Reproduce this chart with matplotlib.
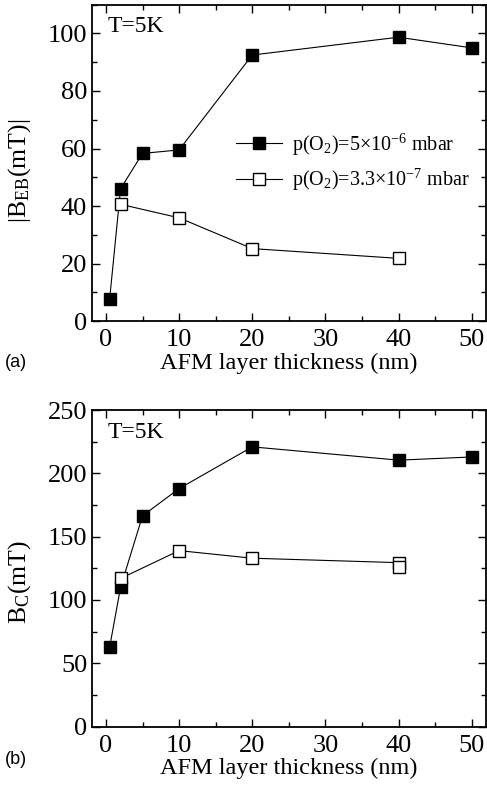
import numpy as np
import matplotlib
matplotlib.use("Agg")
import matplotlib.pyplot as plt
from matplotlib.ticker import MultipleLocator

plt.rcParams['font.family'] = ['Liberation Serif', 'DejaVu Serif']
plt.rcParams['mathtext.fontset'] = 'custom'
plt.rcParams['mathtext.rm'] = 'Liberation Serif'
plt.rcParams['mathtext.it'] = 'Liberation Serif:italic'

# thickness of the AFM layer (nm)
x_high = [0.5, 2, 5, 10, 20, 40, 50]
x_low = [2, 10, 20, 40]
x_low_bc = [2, 10, 20, 40, 40]

# panel (a): exchange bias |B_EB| (mT)
beb_high = [7.5, 46, 58.3, 59.5, 92.5, 98.7, 95]
beb_low = [40.6, 35.9, 25.2, 21.8]

# panel (b): coercive field B_C (mT)
bc_high = [62.5, 110, 166.5, 188, 221, 210.5, 213]
bc_low = [117, 139, 133, 129.5, 126.2]

label_high = r'p(O$_2$)=5$\times$10$^{-6}$ mbar'
label_low = r'p(O$_2$)=3.3$\times$10$^{-7}$ mbar'

fig = plt.figure(figsize=(4.87, 7.85), dpi=100)
ax1 = fig.add_axes([0.189, 0.591, 0.808, 0.403])
ax2 = fig.add_axes([0.189, 0.0745, 0.808, 0.403])


def style(ax, ymaj, ymin):
    ax.set_xlim(-1.9, 51.9)
    ax.xaxis.set_major_locator(MultipleLocator(10))
    ax.xaxis.set_minor_locator(MultipleLocator(5))
    ax.yaxis.set_major_locator(MultipleLocator(ymaj))
    ax.yaxis.set_minor_locator(MultipleLocator(ymin))
    ax.tick_params(which='both', direction='in', top=True, right=True,
                   labelsize=19, width=1.0)
    ax.tick_params(which='major', length=6)
    ax.tick_params(which='minor', length=3.5)
    ax.tick_params(axis='x', pad=6)
    for s in ax.spines.values():
        s.set_linewidth(1.3)
    ax.set_xlabel('AFM layer thickness (nm)', fontsize=17.5, labelpad=1)
    ax.text(0.04, 0.93, 'T=5K', transform=ax.transAxes, fontsize=17,
            va='center', ha='left')


ax1.plot(x_high, beb_high, '-s', color='black', mfc='black', mec='black',
         ms=8, lw=0.8, label=label_high)
ax1.plot(x_low, beb_low, '-s', color='black', mfc='white', mec='black',
         ms=8, mew=1.0, lw=0.8, label=label_low)
ax1.set_ylim(0, 110)
style(ax1, 20, 10)
ax1.set_ylabel(r'|B$_{\mathrm{EB}}$(mT)|', fontsize=18.5)
ax1.yaxis.set_label_coords(-0.15, 0.475)
ax1.legend(loc='upper left', bbox_to_anchor=(0.345, 0.625), frameon=False,
           fontsize=14.5, handlelength=2.3, handletextpad=0.5,
           labelspacing=0.45, borderaxespad=0)
fig.text(0.01, 0.538, '(a)', fontsize=13, family='Liberation Sans',
         va='center')

ax2.plot(x_high, bc_high, '-s', color='black', mfc='black', mec='black',
         ms=8, lw=0.8)
ax2.plot(x_low_bc, bc_low, '-s', color='black', mfc='white', mec='black',
         ms=8, mew=1.0, lw=0.8)
ax2.set_ylim(0, 250)
style(ax2, 50, 25)
ax2.set_ylabel(r'B$_{\mathrm{C}}$(mT)', fontsize=18.5)
ax2.yaxis.set_label_coords(-0.15, 0.455)
fig.text(0.01, 0.033, '(b)', fontsize=13, family='Liberation Sans',
         va='center')

fig.savefig('out.png', dpi=100)
